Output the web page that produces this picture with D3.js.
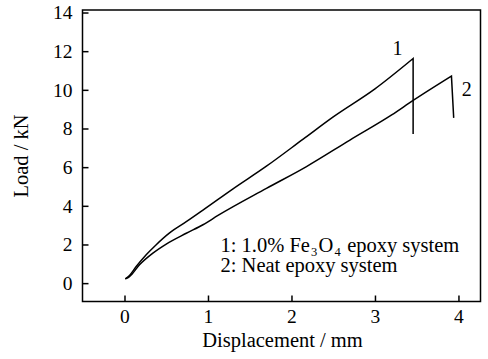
<!DOCTYPE html>
<html lang="en">
<head>
    <meta charset="UTF-8">
    <title>Load vs Displacement</title>
    <script src="https://d3js.org/d3.v7.min.js"></script>
    <style>
        body {
            margin: 0;
            background: #fff;
        }
        svg text {
            fill: #000;
            font-family: "Liberation Serif", "Times New Roman", serif;
        }
    </style>
</head>
<body>
    <div id="container"></div>

    <script>
        // curve 1: 1.0% Fe3O4 epoxy system
        const disp1 = [0.01, 0.06, 0.14, 0.26, 0.38, 0.54, 0.74, 0.94, 1.3, 1.7, 2.14, 2.5, 3.0, 3.457, 3.457];
        const load1 = [0.22, 0.4, 0.86, 1.47, 1.99, 2.6, 3.18, 3.78, 4.88, 6.05, 7.45, 8.6, 10.05, 11.62, 7.72];

        // curve 2: neat epoxy system
        const disp2 = [0.01, 0.06, 0.18, 0.34, 0.5, 0.74, 0.94, 1.12, 1.7, 2.18, 2.7, 3.2, 3.457, 3.916, 3.943];
        const load2 = [0.22, 0.34, 0.95, 1.55, 2.02, 2.58, 3.02, 3.5, 4.9, 6.03, 7.4, 8.7, 9.45, 10.71, 8.55];

        const xTicks = [0, 1, 2, 3, 4];
        const yTicks = [0, 2, 4, 6, 8, 10, 12, 14];

        const width = 488, height = 359;
        const mLeft = 82.5, mTop = 10, mRight = 480.5, mBottom = 301.5;

        const svg = d3.select('#container').append('svg')
            .attr('width', width)
            .attr('height', height);

        const x = d3.scaleLinear().domain([-0.503, 4.264]).range([mLeft, mRight]);
        const y = d3.scaleLinear().domain([-0.95, 14.13]).range([mBottom, mTop]);

        // axes with ticks pointing inward
        const xAxis = svg.append('g')
            .attr('transform', `translate(0,${mBottom})`)
            .call(d3.axisBottom(x).tickValues(xTicks).tickSize(-6).tickPadding(8).tickFormat(d3.format('d')));
        const yAxis = svg.append('g')
            .attr('transform', `translate(${mLeft},0)`)
            .call(d3.axisLeft(y).tickValues(yTicks).tickSize(-6).tickPadding(10).tickFormat(d3.format('d')));

        [xAxis, yAxis].forEach(g => {
            g.attr('font-family', null).attr('font-size', null);
            g.select('.domain').remove();
            g.selectAll('line').attr('stroke', '#000').attr('stroke-width', 1.5);
            g.selectAll('text').style('font-size', '19.5px');
        });

        // frame
        svg.append('rect')
            .attr('x', mLeft).attr('y', mTop)
            .attr('width', mRight - mLeft).attr('height', mBottom - mTop)
            .attr('fill', 'none').attr('stroke', '#000').attr('stroke-width', 1.5);

        const rise = d3.line()
            .x(d => x(d[0]))
            .y(d => y(d[1]))
            .curve(d3.curveMonotoneX);
        const drop = d3.line()
            .x(d => x(d[0]))
            .y(d => y(d[1]));

        const series = [d3.zip(disp1, load1), d3.zip(disp2, load2)];

        // rising part smooth, final failure drop straight
        series.forEach(s => {
            svg.append('path')
                .attr('d', rise(s.slice(0, -1)) + drop(s.slice(-2)).replace('M', 'L'))
                .attr('fill', 'none')
                .attr('stroke', '#000')
                .attr('stroke-width', 1.5)
                .attr('stroke-linejoin', 'miter');
        });

        // curve numbers
        svg.append('text')
            .attr('x', x(3.27)).attr('y', y(11.8))
            .attr('text-anchor', 'middle')
            .style('font-size', '20px')
            .text('1');
        svg.append('text')
            .attr('x', x(4.1)).attr('y', y(9.66))
            .attr('text-anchor', 'middle')
            .style('font-size', '20px')
            .text('2');

        // legend text, subscripts placed as separate pieces
        const legendPieces = [
            { t: '1: 1.0% Fe', sub: false },
            { t: '3', sub: true },
            { t: 'O', sub: false },
            { t: '4', sub: true },
            { t: ' epoxy system', sub: false }
        ];
        let lx = 220.5;
        legendPieces.forEach(p => {
            const el = svg.append('text')
                .attr('x', lx)
                .attr('y', p.sub ? 256 : 251.5)
                .style('font-size', p.sub ? '12.5px' : '20.5px')
                .style('white-space', 'pre')
                .attr('xml:space', 'preserve')
                .text(p.t);
            lx += el.node().getComputedTextLength() + 1.2;
        });
        svg.append('text')
            .attr('x', 220.5).attr('y', 271.5)
            .style('font-size', '20.5px')
            .text('2: Neat epoxy system');

        // axis titles
        svg.append('text')
            .attr('x', 282.5).attr('y', 346.5)
            .attr('text-anchor', 'middle')
            .style('font-size', '20.5px')
            .text('Displacement / mm');
        svg.append('text')
            .attr('transform', 'translate(27.5,156) rotate(-90)')
            .attr('text-anchor', 'middle')
            .style('font-size', '20.5px')
            .text('Load / kN');
    </script>
</body>
</html>
